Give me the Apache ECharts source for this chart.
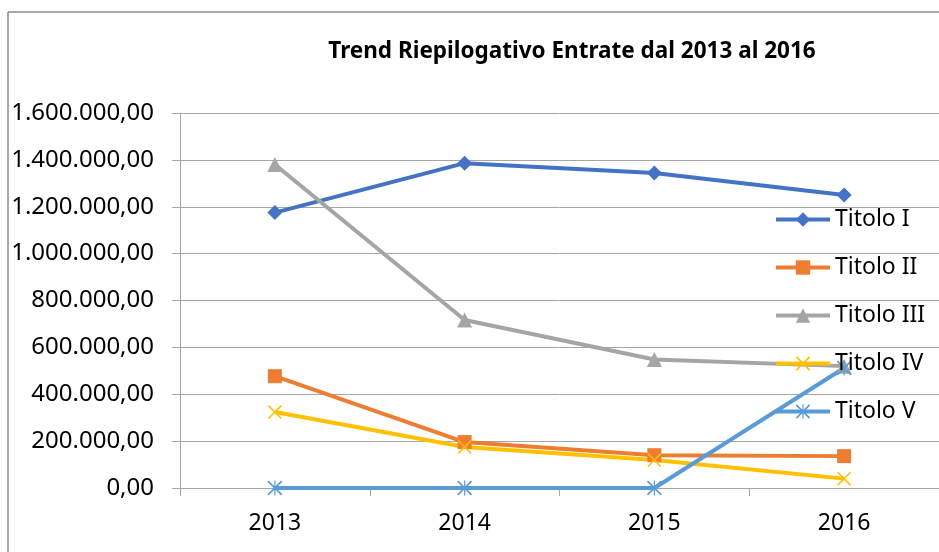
<!DOCTYPE html>
<html>
<head>
<meta charset="utf-8">
<script src="https://cdn.jsdelivr.net/npm/echarts@6/dist/echarts.min.js"></script>
<style>
    html, body {margin: 0; padding: 0; background: #ffffff;}
    #container {width: 939px; height: 552px;}
</style>
</head>
<body>
<div id="container"></div>
<script type="text/javascript">
    // dati
    var anni = ['2013', '2014', '2015', '2016'];
    var titoloI = [1175000, 1386000, 1344000, 1250000];
    var titoloII = [477000, 196000, 140000, 136000];
    var titoloIII = [1380000, 717000, 548000, 520000];
    var titoloIV = [324000, 175000, 119000, 40000];
    var titoloV = [0, 0, 0, 512000];
    var yTicks = {min: 0, max: 1600000, interval: 200000};

    var crossPath = 'path://M0,0.8 L0.8,0 L10,9.2 L9.2,10 Z M9.2,0 L10,0.8 L0.8,10 L0,9.2 Z';
    var starPath = 'path://M0,0.8 L0.8,0 L10,9.2 L9.2,10 Z M9.2,0 L10,0.8 L0.8,10 L0,9.2 Z M4.6,0 L5.4,0 L5.4,10 L4.6,10 Z';

    function formatIt(v) {
        var s = Math.round(v).toString();
        s = s.replace(/\B(?=(\d{3})+(?!\d))/g, '.');
        return s + ',00';
    }

    var dom = document.getElementById("container");
    var myChart = echarts.init(dom, null, {renderer: 'canvas'});
    var font = '"Noto Sans", sans-serif';

    function serie(nome, dati, colore, simbolo, size) {
        return {
            name: nome,
            type: 'line',
            data: dati,
            symbol: simbolo,
            symbolSize: size,
            showAllSymbol: true,
            lineStyle: {color: colore, width: 4},
            itemStyle: {color: colore},
            emphasis: {disabled: true}
        };
    }

    var option = {
        animation: false,
        title: {
            text: 'Trend Riepilogativo Entrate dal 2013 al 2016',
            left: 567,
            textAlign: 'center',
            top: 35,
            textStyle: {fontFamily: font, fontSize: 22.5, fontWeight: 'bold', color: '#000000'}
        },
        legend: {
            orient: 'vertical',
            left: 769,
            top: 203,
            itemWidth: 54,
            itemHeight: 18,
            itemGap: 25,
            lineStyle: {width: 4},
            textStyle: {fontFamily: font, fontSize: 23, lineHeight: 18, color: '#000000'},
            data: ['Titolo I', 'Titolo II', 'Titolo III', 'Titolo IV', 'Titolo V']
        },
        grid: {left: 180, right: -10, top: 113, bottom: 64, containLabel: false},
        xAxis: {
            type: 'category',
            data: anni,
            boundaryGap: true,
            axisLine: {show: true, lineStyle: {color: '#a6a6a6', width: 1}},
            axisTick: {show: true, length: 8, lineStyle: {color: '#a6a6a6'}},
            axisLabel: {fontFamily: font, fontSize: 23, color: '#000000', margin: 24}
        },
        yAxis: {
            type: 'value',
            min: yTicks.min,
            max: yTicks.max,
            interval: yTicks.interval,
            axisLine: {show: true, lineStyle: {color: '#a6a6a6', width: 1}},
            axisTick: {show: true, length: 8, lineStyle: {color: '#a6a6a6'}},
            splitLine: {show: true, lineStyle: {color: '#a6a6a6', width: 1}},
            axisLabel: {fontFamily: font, fontSize: 24, color: '#000000', margin: 26, formatter: formatIt}
        },
        graphic: [
            {type: 'line', shape: {x1: 8, y1: 12, x2: 8, y2: 552}, style: {stroke: '#8c8c8c', lineWidth: 1.5}},
            {type: 'line', shape: {x1: 8, y1: 12, x2: 939, y2: 12}, style: {stroke: '#8c8c8c', lineWidth: 1.5}}
        ],
        series: [
            serie('Titolo I', titoloI, '#4472C4', 'diamond', 15),
            serie('Titolo II', titoloII, '#ED7D31', 'rect', 14),
            serie('Titolo III', titoloIII, '#A5A5A5', 'triangle', 15),
            serie('Titolo IV', titoloIV, '#FFC000', crossPath, 14),
            serie('Titolo V', titoloV, '#5B9BD5', starPath, 15)
        ]
    };
    myChart.setOption(option, true);
</script>
</body>
</html>
